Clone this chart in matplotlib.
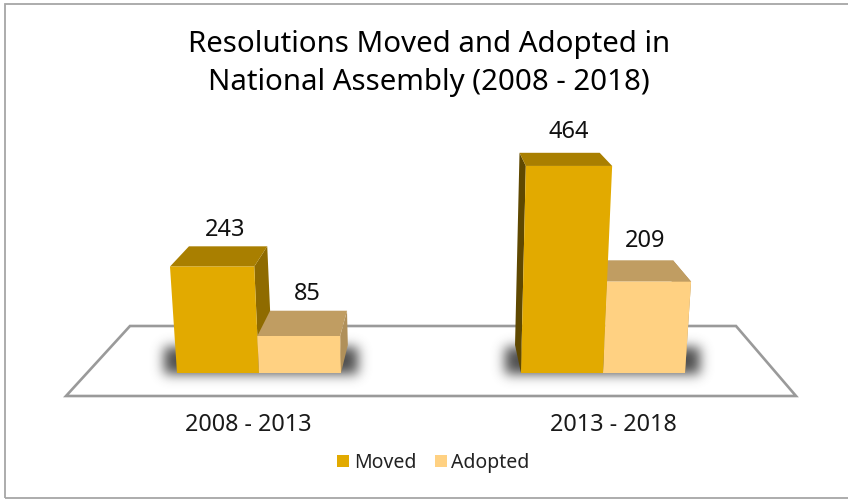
import numpy as np
import matplotlib
matplotlib.use('Agg')
import matplotlib.pyplot as plt
from matplotlib.patches import Rectangle

title = 'Resolutions Moved and Adopted in\nNational Assembly (2008 - 2018)'
periods = ['2008 - 2013', '2013 - 2018']
series_names = ['Moved', 'Adopted']
moved = [243, 464]
adopted = [85, 209]

W, H = 848, 499
PX_PER_UNIT = 0.435
BASE_Y = 373      # pixel row of the value 0
GROUP_X = 259     # pixel column of the first period
GROUP_STEP = 344
BAR_W = 82 / GROUP_STEP

# front, top, right side and left side colours
faces = {
    'Moved': ('#e2aa00', '#a97f00', '#8f6b00', '#5f4800'),
    'Adopted': ('#ffd182', '#c09d62', '#b0905a', '#b0905a'),
}

fig = plt.figure(figsize=(W / 100, H / 100), dpi=100)
ax = fig.add_axes([0, 0, 1, 1])
ax.axis('off')

def px_x(x):
    return (x - GROUP_X) / GROUP_STEP

def px_y(y):
    return (BASE_Y - y) / PX_PER_UNIT

def to_px(x):
    return GROUP_X + x * GROUP_STEP

# camera projection: tall bars fan out from the middle of the floor
def front(x, v):
    p = to_px(x)
    lean = (p - 430) * v * 1.14e-4
    return px_x(p + lean), v * (1 + 1.2e-7 * v * v)

def back(x, v):
    fx, fy = front(x, v)
    p = to_px(fx)
    depth = 28 - 0.032 * v
    return px_x(p + (437 - p) * 0.071), fy + depth / PX_PER_UNIT

def draw_side(x, v, color):
    foot = px_x(to_px(x) + (437 - to_px(x)) * 0.071)
    ax.fill([x, front(x, v)[0], back(x, v)[0], foot],
            [0, front(x, v)[1], back(x, v)[1], 28 / PX_PER_UNIT],
            color=color, lw=0, zorder=3)

def draw_bar(x, v, name):
    c_front, c_top, c_right, c_left = faces[name]
    x0, x1 = x, x + BAR_W
    # the side that faces the middle of the floor is the visible one
    if to_px(x0) > 437:
        draw_side(x0, v, c_left)
    if to_px(x1) < 437 or name == 'Adopted':
        draw_side(x1, v, c_right)
    ax.fill([front(x0, v)[0], front(x1, v)[0], back(x1, v)[0], back(x0, v)[0]],
            [front(x0, v)[1], front(x1, v)[1], back(x1, v)[1], back(x0, v)[1]],
            color=c_top, lw=0, zorder=3)
    ax.fill([x0, x1, front(x1, v)[0], front(x0, v)[0]],
            [0, 0, front(x1, v)[1], front(x0, v)[1]], color=c_front, lw=0, zorder=4)

# floor plate
floor_x = [130, 736, 796, 66, 130]
floor_y = [326, 326, 396, 396, 326]
ax.fill([px_x(p) for p in floor_x], [px_y(p) for p in floor_y],
        facecolor='white', edgecolor='#9a9a9a', lw=1.9, joinstyle='miter', zorder=1)

# soft shadow on the floor behind each pair of bars
shade = np.zeros((H, W))
for left, right in [(164, 358), (505, 700)]:
    shade[347:374, left:right] = 1.0
kernel = np.exp(-0.5 * (np.arange(-18, 19) / 6.0) ** 2)
kernel /= kernel.sum()
shade = np.apply_along_axis(lambda r: np.convolve(r, kernel, mode='same'), 0, shade)
shade = np.apply_along_axis(lambda r: np.convolve(r, kernel, mode='same'), 1, shade)
rgba = np.zeros((H, W, 4))
rgba[..., :3] = 0.3
rgba[..., 3] = np.clip(shade, 0, 1)
ax.imshow(rgba, extent=[px_x(0), px_x(W), px_y(H), px_y(0)], aspect='auto',
          interpolation='bilinear', zorder=2)
ax.set_xlim(px_x(0), px_x(W))
ax.set_ylim(px_y(H), px_y(0))

font = 'Noto Sans'
moved_dx = [-34, -34]
adopted_dx = [48, 42]
moved_gap = [10, 15]
adopted_gap = [11, 13]
for i in range(len(periods)):
    x_m = i - BAR_W
    if i == 0:
        draw_bar(x_m, moved[i], 'Moved')
        draw_bar(i, adopted[i], 'Adopted')
    else:
        draw_bar(i, adopted[i], 'Adopted')
        draw_bar(x_m, moved[i], 'Moved')
    ax.text(px_x(to_px(i) + moved_dx[i]), back(x_m, moved[i])[1] + moved_gap[i] / PX_PER_UNIT,
            str(moved[i]), ha='center', va='baseline', fontsize=17, family=font,
            color='#111111', zorder=5)
    ax.text(px_x(to_px(i) + adopted_dx[i]), back(i, adopted[i])[1] + adopted_gap[i] / PX_PER_UNIT,
            str(adopted[i]), ha='center', va='baseline', fontsize=17, family=font,
            color='#111111', zorder=5)

for i, label in enumerate(periods):
    ax.text(px_x([248, 613][i]), px_y(431), label, ha='center', va='baseline',
            fontsize=16.8, family=font, color='#1a1a1a')

ax.text(px_x(429), px_y(90), title, ha='center', va='baseline', fontsize=21.2,
        family=font, color='black', linespacing=1.42)

# legend
legend_box = [337, 435]
legend_text = [354, 451]
for i, name in enumerate(series_names):
    ax.add_patch(Rectangle((px_x(legend_box[i]), px_y(467)), 12 / GROUP_STEP, 12 / PX_PER_UNIT,
                           color=faces[name][0], lw=0, zorder=5))
    ax.text(px_x(legend_text[i]), px_y(468), name, ha='left', va='baseline', fontsize=14,
            family=font, color='#222222')

# chart frame, it runs off the right edge
ax.add_patch(Rectangle((px_x(5), px_y(498)), 900 / GROUP_STEP, 494 / PX_PER_UNIT,
                       fill=False, edgecolor='#a6a6a6', lw=1.3, zorder=6))

fig.savefig('out.png', dpi=100)
